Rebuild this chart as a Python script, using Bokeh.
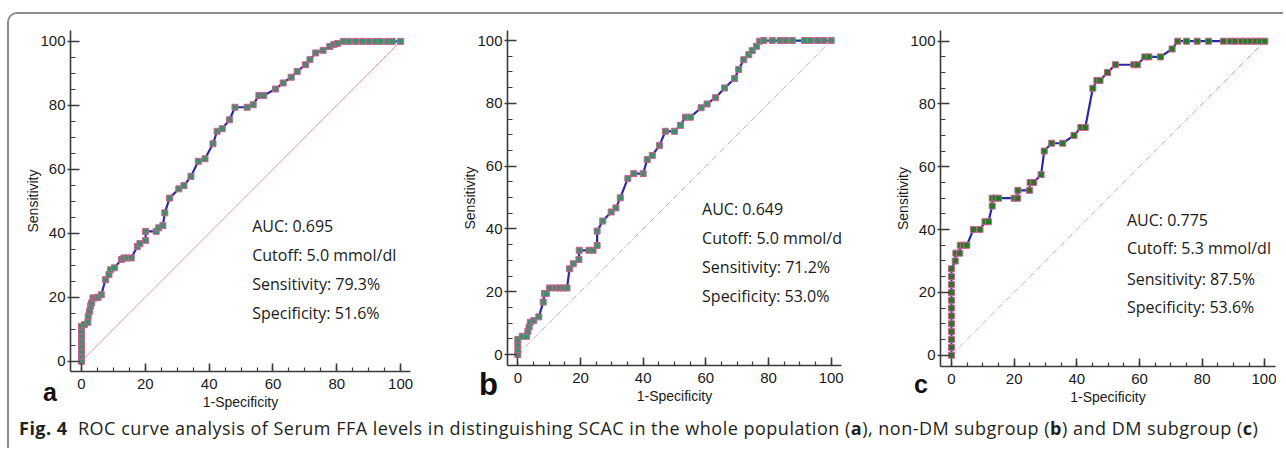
from bokeh.plotting import figure
from bokeh.models import Range1d, SingleIntervalTicker, Label, Div
from bokeh.layouts import row, column
from bokeh.embed import file_html
from bokeh.resources import INLINE

# ---------------- data ----------------
a_fpr = [0, 0, 0, 0, 0, 0, 0, 0, 0.9, 2.0, 2.1, 2.5, 2.8, 3.1, 3.6, 4.4, 5.2, 6.2,
         7.5, 8.6, 9.1, 10.3, 12.5, 13.3, 14.3, 15.6, 17.5, 18.3, 20.1, 20.1, 23.4,
         24.2, 25.5, 26.1, 27.6, 30.5, 32.1, 34.3, 36.6, 38.7, 41.2, 42.5, 44.1, 46.4,
         48.1, 51.9, 53.8, 55.6, 57.1, 60.8, 63.2, 65.7, 67.6, 70.2, 71.6, 73.4, 75.7,
         77.8, 79.1, 80.2, 82.0, 83.8, 85.9, 88.0, 90.1, 92.2, 93.7, 95.8, 97.4, 100]
a_tpr = [0, 1.6, 3.1, 4.7, 6.3, 7.8, 9.4, 10.9, 11.5, 12.2, 14.1, 15.6, 17.2, 18.2,
         19.8, 19.8, 20.0, 20.8, 25.5, 27.1, 28.6, 29.2, 31.8, 32.3, 32.3, 32.3, 35.9,
         36.8, 37.8, 40.6, 40.6, 41.7, 42.4, 46.4, 51.0, 53.9, 54.9, 57.8, 62.5, 63.3,
         68.0, 71.9, 72.7, 75.5, 79.4, 79.4, 80.2, 83.1, 83.1, 85.1, 87.0, 88.8, 90.6,
         92.7, 94.3, 96.4, 97.2, 98.4, 99.0, 99.3, 100, 100, 100, 100, 100, 100, 100,
         100, 100, 100]

b_fpr = [0, 0, 0, 0, 1.4, 2.8, 3.2, 3.6, 4.0, 5.1, 6.7, 8.1, 8.5, 9.1, 10.1, 12.0,
         13.3, 14.5, 15.7, 16.5, 17.7, 19.5, 19.6, 22.7, 24.0, 25.3, 25.3, 27.1, 29.8,
         31.3, 32.7, 35.1, 37.0, 40.0, 41.3, 42.9, 45.2, 47.1, 50.0, 51.9, 53.5, 55.1,
         58.5, 60.4, 63.1, 66.0, 69.2, 70.5, 72.1, 73.7, 74.8, 76.2, 77.2, 78.5, 81.2,
         83.7, 85.5, 87.6, 91.5, 93.4, 95.7, 97.7, 100]
b_tpr = [0, 1.6, 3.2, 4.8, 5.8, 5.8, 7.4, 8.8, 10.3, 10.8, 12.0, 16.7, 19.4, 19.4,
         21.2, 21.2, 21.2, 21.2, 21.2, 27.3, 28.9, 30.3, 33.2, 33.2, 33.2, 34.7, 39.3,
         42.5, 45.4, 46.7, 49.9, 56.1, 57.6, 57.6, 62.1, 63.4, 66.6, 71.1, 71.1, 73.0,
         75.6, 75.6, 78.6, 79.8, 81.8, 84.9, 87.9, 90.8, 93.9, 95.5, 96.8, 98.2, 99.8,
         100, 100, 100, 100, 100, 100, 100, 100, 100, 100]

c_fpr = [0, 0, 0, 0, 0, 0, 0, 0, 0, 0, 0, 0, 1.2, 1.4, 2.6, 2.8, 3.8, 4.9, 7.0, 9.1,
         10.7, 11.8, 13.0, 13.0, 13.9, 15.0, 20.0, 21.1, 21.2, 24.9, 25.1, 26.2, 28.6,
         29.6, 32.0, 35.5, 39.1, 41.3, 42.7, 45.1, 46.4, 47.4, 49.8, 52.3, 58.2, 59.3,
         61.7, 63.0, 66.7, 70.4, 72.2, 75.0, 78.4, 82.0, 86.8, 89.0, 90.5, 92.5, 94.0,
         95.5, 97.0, 98.5, 100]
c_tpr = [0, 2.5, 5, 7.5, 10, 12.5, 15, 17.5, 20, 22.5, 25, 27.5, 30, 32.5, 32.5, 35,
         35, 35, 40, 40, 42.5, 42.5, 47.5, 50, 50, 50, 50, 50, 52.5, 52.5, 55, 55, 57.5,
         65, 67.5, 67.5, 70, 72.5, 72.5, 85, 87.5, 87.5, 90, 92.5, 92.5, 92.5, 95, 95,
         95, 97.5, 100, 100, 100, 100, 100, 100, 100, 100, 100, 100, 100, 100, 100]

diag = [0, 100]

a_stats = ["AUC: 0.695", "Cutoff: 5.0 mmol/dl", "Sensitivity: 79.3%", "Specificity: 51.6%"]
b_stats = ["AUC: 0.649", "Cutoff: 5.0 mmol/dl", "Sensitivity: 71.2%", "Specificity: 53.0%"]
c_stats = ["AUC: 0.775", "Cutoff: 5.3 mmol/dl", "Sensitivity: 87.5%", "Specificity: 53.6%"]
panel_letters = ["a", "b", "c"]

x_title = "1-Specificity"
y_title = "Sensitivity"
caption_bold = "Fig. 4"
caption_text = ("ROC curve analysis of Serum FFA levels in distinguishing SCAC in the whole "
                "population (<b>a</b>), non-DM subgroup (<b>b</b>) and DM subgroup (<b>c</b>)")

AX_FONT = "Liberation Sans"
TXT_FONT = "Open Sans"


def panel(fpr, tpr, stats, fw, fh, mb_left, mb_right, mb_top, mb_bottom,
          xr, yr, stat_x, stat_y, fill, diag_dash):
    p = figure(frame_width=fw, frame_height=fh, output_backend="svg", toolbar_location=None,
               x_range=Range1d(*xr), y_range=Range1d(*yr),
               min_border_left=mb_left, min_border_right=mb_right,
               min_border_top=mb_top, min_border_bottom=mb_bottom)
    p.outline_line_color = None
    p.grid.visible = False
    p.background_fill_color = "white"
    p.border_fill_color = None
    for ax in (p.xaxis[0], p.yaxis[0]):
        ax.ticker = SingleIntervalTicker(interval=20, num_minor_ticks=4)
        ax.axis_line_color = "#3a3a3a"
        ax.axis_line_width = 1.6
        ax.major_tick_line_color = "#3a3a3a"
        ax.major_tick_line_width = 1.6
        ax.minor_tick_line_color = "#3a3a3a"
        ax.minor_tick_line_width = 1.2
        ax.major_label_text_font = AX_FONT
        ax.major_label_text_font_size = "15px"
        ax.major_label_text_color = "#1a1a1a"
        ax.axis_label_text_font = AX_FONT
        ax.axis_label_text_font_size = "14px"
        ax.axis_label_text_font_style = "normal"
        ax.axis_label_text_color = "#1a1a1a"
    p.xaxis.axis_label = x_title
    p.yaxis.axis_label = y_title
    p.xaxis.major_tick_in = 8
    p.xaxis.major_tick_out = 0
    p.xaxis.minor_tick_in = 4
    p.xaxis.minor_tick_out = 0
    p.xaxis.major_label_standoff = 7
    p.xaxis.axis_label_standoff = 2
    p.yaxis.major_tick_in = 9
    p.yaxis.major_tick_out = 3
    p.yaxis.minor_tick_in = 5
    p.yaxis.minor_tick_out = 0
    p.yaxis.major_label_standoff = 2
    p.yaxis.axis_label_standoff = -4

    p.line(diag, diag, line_color="#d9a0a0", line_width=1, line_dash=diag_dash)
    p.line(fpr, tpr, line_color="#2a2aa8", line_width=2.2)
    p.scatter(fpr, tpr, marker="square", size=6, fill_color=fill,
              line_color="#cc5f96", line_width=1)

    for i, s in enumerate(stats):
        p.add_layout(Label(x=stat_x, y=stat_y[i], text=s, text_font=TXT_FONT,
                           text_font_size="16px", text_color="#1a1a1a",
                           text_baseline="alphabetic"))
    return p


pa = panel(a_fpr, a_tpr, a_stats, 340, 341, 70, 20, 23, 46,
           (-3.45, 103.1), (-3.2, 103.4), 53.5, [42.2, 33.3, 24.3, 15.2],
           "#3f9068", "solid")
pb = panel(b_fpr, b_tpr, b_stats, 334, 335, 77, 19, 30, 45,
           (-3.3, 103.3), (-3.5, 103.2), 58.8, [46.2, 37.2, 27.9, 18.6],
           "#3f9068", "6 2 1 2")
pc = panel(c_fpr, c_tpr, c_stats, 335, 336, 80, 1, 24, 50,
           (-3.5, 103.4), (-3.6, 103.4), 56.0, [43.0, 34.0, 24.4, 15.4],
           "#227a22", "6 2 1 2")

# overlay: outer rounded frame line and the panel letters (positioned relative to caption box)
letter_pos = [(38, -35, 25), (474, -46, 31), (909, -43, 25)]
letters_html = "".join(
    '<span style="position:absolute;left:%dpx;top:%dpx;font-family:\'Liberation Sans\';'
    'font-weight:bold;font-size:%dpx;line-height:%dpx;color:#111;">%s</span>'
    % (lx, ly, fs, fs, t) for (lx, ly, fs), t in zip(letter_pos, panel_letters))
frame_html = ('<div style="position:absolute;left:2px;top:-403px;width:1276px;height:436px;'
              'box-sizing:border-box;border-top:2px solid #8c8c8c;border-left:2px solid #8c8c8c;'
              'border-top-left-radius:10px;pointer-events:none;"></div>')
cap_html = ('<div style="position:relative;width:1270px;height:24px;">' + frame_html + letters_html +
            '<div style="position:absolute;left:14px;top:2px;white-space:nowrap;'
            'font-family:\'Open Sans\';font-size:18px;letter-spacing:0.5px;line-height:22px;'
            'color:#231f20;"><b>' + caption_bold + '</b>&nbsp; ' + caption_text + '</div></div>')

cap = Div(text=cap_html, width=1270, height=24)

layout = column(row(pa, pb, pc), cap)

open("out.html", "w").write(file_html(layout, INLINE))
